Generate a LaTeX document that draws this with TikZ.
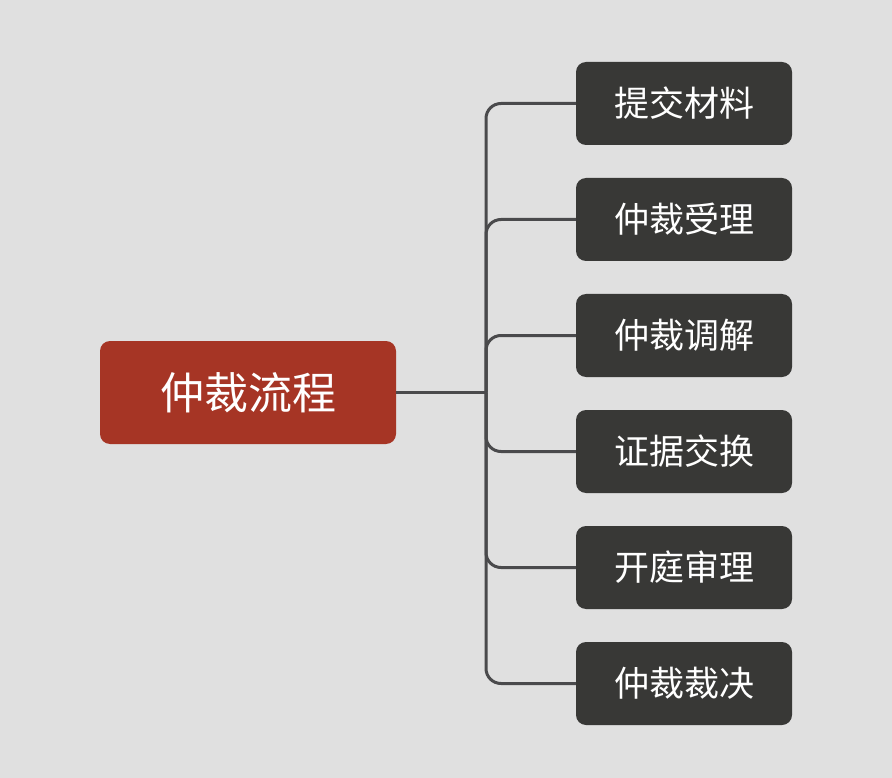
\documentclass[tikz,border=0pt]{standalone}
\usepackage{fontspec}
\newfontfamily\cjk{Noto Sans CJK SC}
\definecolor{bg}{HTML}{E0E0E0}
\definecolor{rootred}{HTML}{A63525}
\definecolor{childgray}{HTML}{383836}
\definecolor{linegray}{HTML}{4A4A4C}
\begin{document}
\begin{tikzpicture}[x=1pt,y=-1pt,
  rootbox/.style={fill=rootred,rounded corners=10pt,minimum width=296pt,minimum height=103pt,text=white,font=\cjk\fontsize{44}{50}\selectfont,inner sep=0pt},
  childbox/.style={fill=childgray,rounded corners=10pt,minimum width=216pt,minimum height=83pt,text=white,font=\cjk\fontsize{35}{40}\selectfont,inner sep=0pt},
  conn/.style={draw=linegray,line width=3pt,rounded corners=15pt}]
\fill[bg] (0,0) rectangle (892,778);
\useasboundingbox (0,0) rectangle (892,778);
\node[rootbox] (root) at (248,392.5) {仲裁流程};
\node[childbox] (c1) at (684,103.5) {提交材料};
\node[childbox] (c2) at (684,219.5) {仲裁受理};
\node[childbox] (c3) at (684,335.5) {仲裁调解};
\node[childbox] (c4) at (684,451.5) {证据交换};
\node[childbox] (c5) at (684,567.5) {开庭审理};
\node[childbox] (c6) at (684,683.5) {仲裁裁决};
\coordinate (j) at (486,392.5);
\draw[conn] (root.east) -- (j);
\foreach \c in {c1,c2,c3,c4,c5,c6}{
  \draw[conn] (j) |- (\c.west);
}
\end{tikzpicture}
\end{document}
